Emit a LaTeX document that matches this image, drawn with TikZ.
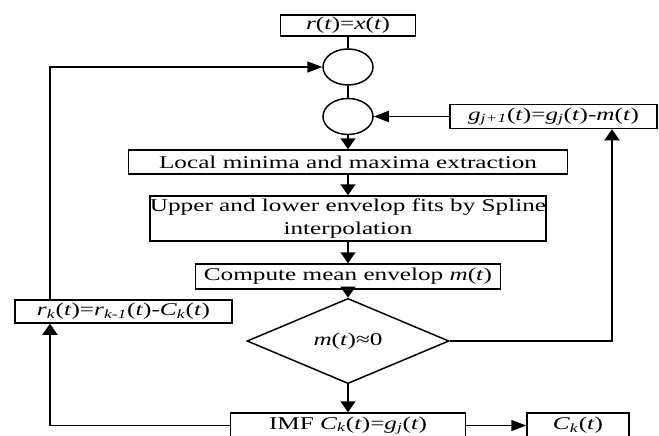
\documentclass[tikz,border=0pt]{standalone}
\usepackage{fontspec}
\setmainfont{Liberation Serif}
\usepackage{graphicx}
\usetikzlibrary{arrows.meta}
\usetikzlibrary{positioning}
\usetikzlibrary{shapes.geometric}
\newcommand{\wtxt}[1]{\scalebox{1.4}[1]{#1}}
\newcommand{\iv}[1]{\textit{#1}}
\newcommand{\isub}[1]{\textsubscript{\textit{#1}}}
\tikzstyle{procbox} = [draw, rectangle, inner sep=0pt, line width=1.5pt, align=center, font=\fontsize{18}{23}\selectfont]
\tikzstyle{sumnode} = [draw, ellipse, inner sep=0pt, line width=1.5pt, minimum width=50pt, minimum height=36pt]
\tikzstyle{decnode} = [draw, diamond, inner sep=0pt, line width=1.5pt, minimum width=202pt, minimum height=59pt, font=\fontsize{18}{23}\selectfont]
\tikzstyle{varr} = [-{Triangle[length=11pt,width=15pt]}]
\tikzstyle{harr} = [-{Triangle[length=15pt,width=11pt]}]

\begin{document}
\begin{tikzpicture}[x=1pt, y=-1pt, line width=1.5pt]
  \useasboundingbox (0,0) rectangle (659,436);
  \clip (0,0) rectangle (659,436);

  \node[procbox, minimum width=135pt, minimum height=21pt] (init) at (348,25.5) {\wtxt{\iv{r}(\iv{t})=\iv{x}(\iv{t})}};
  \node[sumnode] (sum1) at (348,67) {};
  \node[sumnode] (sum2) at (348,116.5) {};
  \node[procbox, minimum width=207pt, minimum height=24pt] (upd) at (553.5,116.5) {\wtxt{\iv{g}\isub{j+1}(\iv{t})=\iv{g}\isub{j}(\iv{t})-\iv{m}(\iv{t})}};
  \node[procbox, minimum width=439pt, minimum height=24pt] (ext) at (348,162) {\wtxt{Local minima and maxima extraction}};
  \node[procbox, minimum width=393pt, minimum height=45pt] (env) at (348,218.5) {\wtxt{Upper and lower envelop fits by Spline}\\\wtxt{interpolation}};
  \node[procbox, minimum width=305pt, minimum height=25pt] (mean) at (348,276.5) {\wtxt{Compute mean envelop \iv{m}(\iv{t})}};
  \node[decnode] (test) at (348,341) {\wtxt{\iv{m}(\iv{t})≈0}};
  \node[procbox, minimum width=217pt, minimum height=23pt] (res) at (123.5,311.5) {\wtxt{\iv{r}\isub{k}(\iv{t})=\iv{r}\isub{k-1}(\iv{t})-\iv{C}\isub{k}(\iv{t})}};
  \node[procbox, minimum width=235pt, minimum height=25pt] (imf) at (348,425.5) {\wtxt{IMF \iv{C}\isub{k}(\iv{t})=\iv{g}\isub{j}(\iv{t})}};
  \node[procbox, minimum width=102pt, minimum height=25pt] (out) at (578,425.5) {\wtxt{\iv{C}\isub{k}(\iv{t})}};

  \coordinate (rturn) at (612,341);
  \coordinate (lturn) at (50,425.5);

  \draw (init) -- (sum1);
  \draw (sum1) -- (sum2);
  \draw[varr] (sum2) -- (ext);
  \draw[varr] (ext) -- (env);
  \draw[varr] (env) -- (mean);
  \draw[varr] (mean) -- (test);
  \draw[varr] (test) -- (imf);
  \draw[harr] (imf) -- (out);
  \draw[harr] (upd) -- (sum2);
  \draw[varr] (test.east) -- (rturn) -- (rturn |- upd.south);
  \draw[varr] (imf.west) -- (lturn) -- (lturn |- res.south);
  \draw[harr] (lturn |- res.north) |- (sum1.west);
\end{tikzpicture}
\end{document}
